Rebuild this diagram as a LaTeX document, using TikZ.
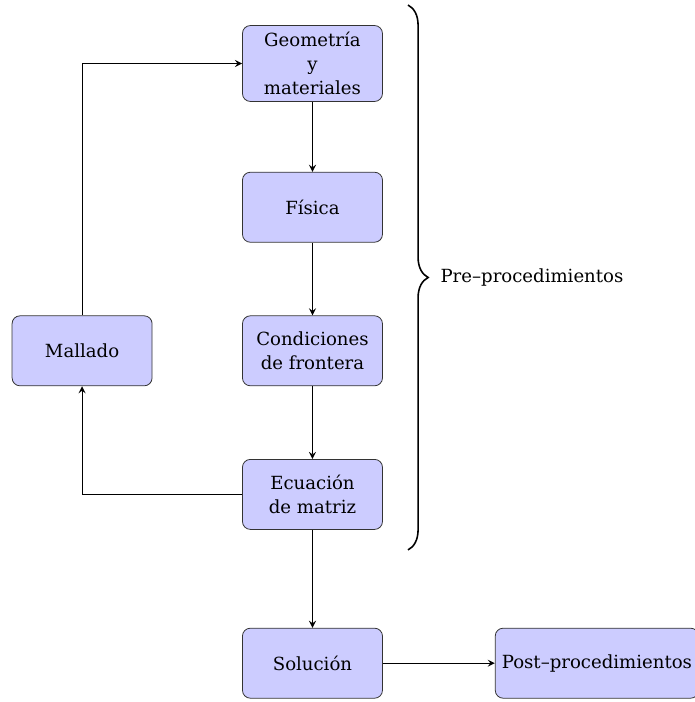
\documentclass[tikz,border=0pt]{standalone}
\usepackage{fontspec}
\setmainfont{DejaVu Serif}
\usetikzlibrary{positioning,decorations.pathreplacing}

\tikzset{
  etapa/.style={rectangle, draw=black!80, fill=blue!20, rounded corners, minimum width=2.5cm, minimum height=1.25cm, align=center},
  flecha/.style={->, >=stealth, semithick}
}

\begin{document}
\begin{tikzpicture}[node distance=1.3cm, font=\fontsize{9.2}{12.2}\selectfont]
  \useasboundingbox (0,0) rectangle (12.41,-12.536);
  \node[etapa] (geo) at (5.58,-1.134) {Geometría\\y\\materiales};
  \node[etapa, below=1.25cm of geo] (fisica) {Física};
  \node[etapa, below=of fisica] (cond) {Condiciones\\de frontera};
  \node[etapa, below=of cond] (ecu) {Ecuación\\de matriz};
  \node[etapa, below=1.75cm of ecu] (sol) {Solución};
  \node[etapa, left=1.6cm of cond] (mallado) {Mallado};
  \node[etapa, right=2cm of sol] (post) {Post–procedimientos};

  \draw[flecha] (geo) -- (fisica);
  \draw[flecha] (fisica) -- (cond);
  \draw[flecha] (cond) -- (ecu);
  \draw[flecha] (ecu) -- (sol);
  \draw[flecha] (sol) -- (post);
  \draw[flecha] (ecu.west) -| (mallado.south);
  \draw[flecha] (mallado.north) |- (geo.west);

  % llave de pre-procesamiento
  \draw[thick, decorate, decoration={brace, amplitude=0.36cm}] (7.286,-0.09) -- (7.286,-9.82)
    node[midway, right=0.45cm] (pre) {Pre–procedimientos};
\end{tikzpicture}
\end{document}
